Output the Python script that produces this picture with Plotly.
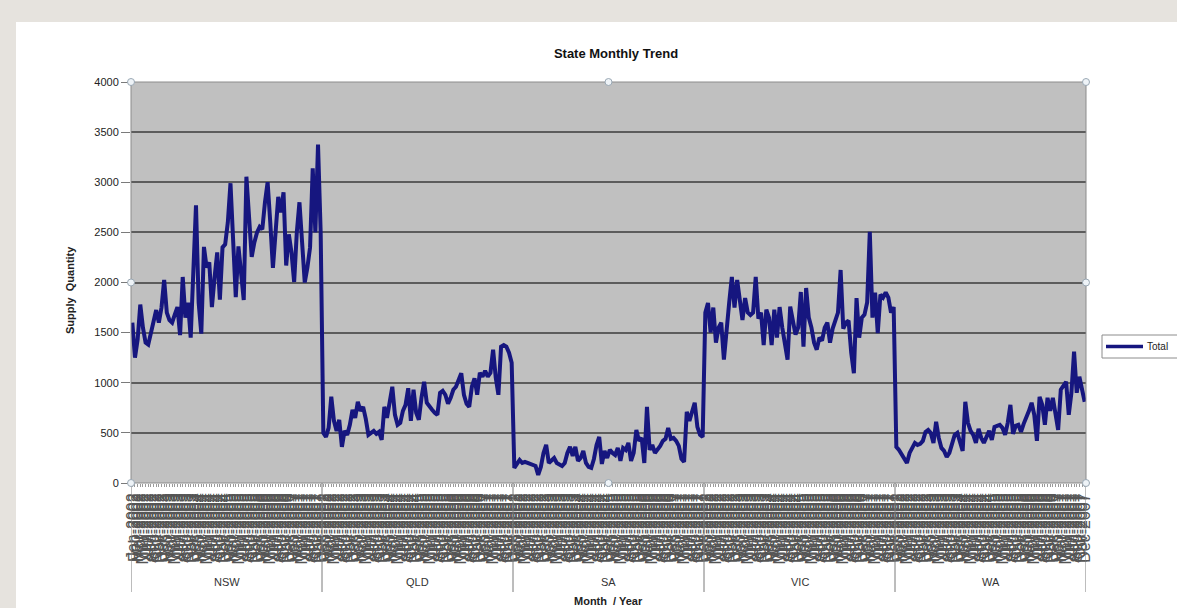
import plotly.graph_objects as go

# Monthly supply quantity per state, Jan 2002 - Dec 2007
states = ["NSW", "QLD", "SA", "VIC", "WA"]
years = [2002, 2003, 2004, 2005, 2006, 2007]
months = ["Jan", "Feb", "Mar", "Apr", "May", "Jun",
          "Jul", "Aug", "Sep", "Oct", "Nov", "Dec"]

nsw = [1600, 1250, 1430, 1780, 1550, 1400, 1380, 1500, 1620, 1725, 1600, 1750,
       2025, 1700, 1625, 1600, 1680, 1755, 1475, 2055, 1650, 1800, 1450, 2200,
       2770, 1800, 1490, 2355, 2150, 2200, 1755, 2050, 2300, 1830, 2350, 2380,
       2600, 2990, 2400, 1855, 2360, 2100, 1825, 3055, 2600, 2255, 2400, 2500,
       2555, 2530, 2800, 3000, 2600, 2145, 2500, 2855, 2700, 2900, 2170, 2480,
       2300, 2005, 2500, 2800, 2400, 2000, 2150, 2350, 3140, 2500, 3375, 2500]
qld = [500, 460, 550, 860, 620, 520, 630, 360, 520, 480, 580, 730,
       650, 810, 720, 760, 640, 480, 500, 520, 490, 510, 430, 760,
       650, 830, 960, 680, 580, 600, 720, 780, 945, 620, 930, 700,
       630, 850, 1010, 800, 760, 730, 700, 680, 900, 920, 880, 790,
       850, 930, 960, 1030, 1095, 880, 790, 760, 960, 1045, 880, 1100,
       1060, 1120, 1060, 1100, 1330, 1050, 880, 1360, 1375, 1360, 1300, 1200]
sa = [150, 190, 230, 200, 210, 200, 190, 190, 170, 80, 160, 300,
      380, 200, 220, 250, 200, 180, 170, 200, 300, 360, 270, 360,
      220, 250, 320, 200, 160, 150, 240, 380, 460, 190, 320, 250,
      330, 300, 280, 350, 220, 350, 330, 400, 220, 300, 530, 420,
      450, 200, 760, 330, 380, 300, 330, 370, 420, 440, 550, 440,
      450, 420, 370, 240, 210, 710, 620, 720, 800, 560, 480, 460]
vic = [1700, 1795, 1500, 1750, 1400, 1550, 1600, 1230, 1550, 1800, 2055, 1750,
       2025, 1800, 1625, 1845, 1700, 1675, 1700, 2055, 1640, 1700, 1375, 1730,
       1650, 1375, 1730, 1450, 1755, 1550, 1400, 1230, 1760, 1630, 1480, 1550,
       1905, 1360, 1945, 1650, 1550, 1400, 1330, 1450, 1420, 1550, 1600, 1400,
       1540, 1620, 1700, 2125, 1540, 1600, 1620, 1300, 1095, 1845, 1450, 1650,
       1680, 1800, 2505, 1650, 1900, 1495, 1880, 1850, 1900, 1850, 1700, 1755]
wa = [360, 330, 290, 250, 200, 300, 360, 400, 380, 390, 420, 510,
      530, 500, 400, 610, 450, 350, 320, 260, 300, 380, 480, 500,
      400, 320, 810, 600, 520, 480, 400, 540, 450, 400, 460, 520,
      430, 560, 570, 580, 550, 480, 600, 780, 490, 570, 580, 510,
      590, 650, 720, 800, 680, 420, 860, 780, 580, 850, 720, 850,
      690, 530, 930, 970, 1010, 680, 900, 1310, 900, 1060, 930, 810]

series = [nsw, qld, sa, vic, wa]
series_name = "Total"
month_labels = [f"{m}-{y}" for y in years for m in months]
n_per_state = len(month_labels)

values = [v for s in series for v in s]
x_idx = list(range(len(values)))
tick_text = month_labels * len(states)

# plot-area geometry in pixels (used to place paper-referenced decorations)
W, H = 1177, 608
L, R, T, B = 131, 1086, 82, 483
pw, ph = R - L, B - T


def px_x(px):
    return (px - L) / pw


def px_y(py):
    return (B - py) / ph


FONT = "Liberation Sans, Arial, sans-serif"
NAVY = "#16167f"

fig = go.Figure()
fig.add_trace(go.Scatter(
    x=x_idx, y=values, mode="lines", name=series_name,
    line=dict(color=NAVY, width=4), showlegend=False,
))

shapes = []
# beige page border around the white card
shapes.append(dict(type="rect", xref="paper", yref="paper", layer="below",
                   x0=px_x(0), x1=px_x(W), y0=px_y(22), y1=px_y(0),
                   fillcolor="#e6e3de", line=dict(width=0)))
shapes.append(dict(type="rect", xref="paper", yref="paper", layer="below",
                   x0=px_x(0), x1=px_x(16), y0=px_y(H), y1=px_y(0),
                   fillcolor="#e6e3de", line=dict(width=0)))
# plot-area outline
shapes.append(dict(type="rect", xref="paper", yref="paper", layer="above",
                   x0=0, x1=1, y0=0, y1=1, line=dict(color="#8c8c8c", width=1)))
# state group dividers under the category axis
for k in range(len(states) + 1):
    shapes.append(dict(type="line", xref="x", yref="paper", layer="above",
                       x0=k * n_per_state - 0.5, x1=k * n_per_state - 0.5,
                       y0=0, y1=px_y(592), line=dict(color="#7a7a7a", width=1)))
# selection handles around the plot area
for hx, hy in [(0, 1), (0.5, 1), (1, 1), (0, 0.5), (1, 0.5), (0, 0), (0.5, 0), (1, 0)]:
    shapes.append(dict(type="circle", xref="paper", yref="paper", layer="above",
                       xsizemode="pixel", ysizemode="pixel",
                       xanchor=hx, yanchor=hy, x0=-3.5, x1=3.5, y0=-3.5, y1=3.5,
                       fillcolor="#eef3f7", line=dict(color="#9aa8b4", width=1)))
# legend box with its line sample (box runs past the right page edge)
shapes.append(dict(type="rect", xref="paper", yref="paper", layer="above",
                   x0=px_x(1102), x1=px_x(1195), y0=px_y(358), y1=px_y(335),
                   fillcolor="white", line=dict(color="#8c8c8c", width=1)))
shapes.append(dict(type="line", xref="paper", yref="paper", layer="above",
                   x0=px_x(1106), x1=px_x(1143), y0=px_y(346.5), y1=px_y(346.5),
                   line=dict(color=NAVY, width=3.5)))

annotations = []
annotations.append(dict(
    text=series_name, x=px_x(1145), xref="paper", y=px_y(346.5), yref="paper",
    showarrow=False, xanchor="left", yanchor="middle",
    font=dict(family=FONT, size=10, color="#222222")))
for k, st in enumerate(states):
    annotations.append(dict(
        text=st, x=k * n_per_state + (n_per_state - 1) / 2, xref="x",
        y=px_y(582), yref="paper", showarrow=False, yanchor="middle",
        font=dict(family=FONT, size=11, color="#333333")))
annotations.append(dict(
    text="<b>Month  / Year</b>", x=0.5, xref="paper", y=px_y(601), yref="paper",
    showarrow=False, yanchor="middle",
    font=dict(family=FONT, size=11, color="#222222")))
annotations.append(dict(
    text="<b>Supply  Quantity</b>", x=px_x(70), xref="paper", y=px_y(290),
    yref="paper", showarrow=False, textangle=-90, xanchor="center",
    yanchor="middle", font=dict(family=FONT, size=11, color="#222222")))

fig.update_layout(
    width=W, height=H,
    margin=dict(l=L, r=W - R, t=T, b=H - B, autoexpand=False),
    paper_bgcolor="white",
    plot_bgcolor="#c0c0c0",
    title=dict(text="<b>State Monthly Trend</b>", x=px_x(616), xref="paper",
               xanchor="center", y=1 - 53 / H, yanchor="middle",
               font=dict(family=FONT, size=13, color="#111111")),
    showlegend=False,
    shapes=shapes,
    annotations=annotations,
    xaxis=dict(
        range=[-0.5, len(values) - 0.5],
        tickmode="array", tickvals=x_idx, ticktext=tick_text,
        tickangle=-90, tickfont=dict(family=FONT, size=16, color="#555555"),
        ticks="outside", ticklen=3, tickcolor="#9a9a9a",
        showgrid=False, zeroline=False, showline=False,
    ),
    yaxis=dict(
        range=[0, 4000], tick0=0, dtick=500,
        tickfont=dict(family=FONT, size=11, color="#222222"),
        ticks="outside", ticklen=9, tickcolor="#7a7a7a",
        showgrid=True, gridcolor="#5c5c5c", gridwidth=2,
        zeroline=False, showline=False,
    ),
)

fig.write_html("out.html")
